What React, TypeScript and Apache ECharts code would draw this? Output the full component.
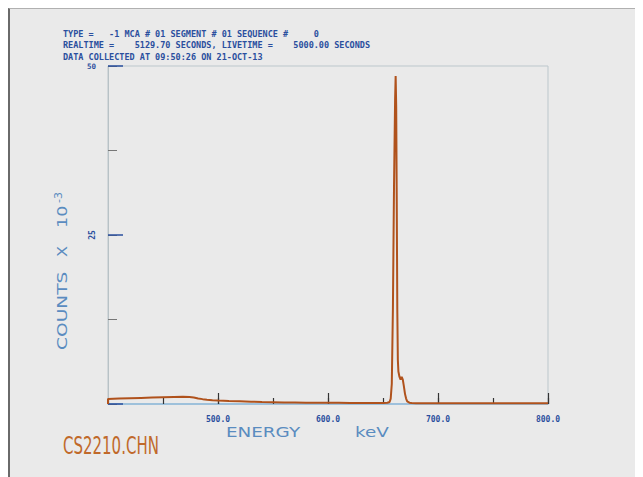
import React, { useEffect, useRef } from "react";
import * as echarts from "echarts";

// Spectrum: energy (keV) and counts (x 10^3)
const energies = [
  400, 400.01, 410, 420, 430, 440, 450, 460, 468, 474, 478, 482, 486, 490, 495, 500,
  510, 520, 530, 540, 550, 560, 570, 580, 590, 600, 610, 620, 630, 640, 650, 654,
  656, 657, 658, 659, 660, 661, 661.5, 662, 662.5, 663, 663.5, 664, 665, 666, 667,
  668, 669, 670, 671, 672, 674, 676, 680, 690, 700, 720, 740, 760, 780, 800,
];
const counts = [
  0, 0.75, 0.8, 0.85, 0.9, 0.95, 1.0, 1.04, 1.07, 1.04, 0.95, 0.82, 0.72, 0.64, 0.56, 0.5,
  0.44, 0.4, 0.35, 0.3, 0.27, 0.24, 0.22, 0.2, 0.19, 0.18, 0.17, 0.16, 0.15, 0.15, 0.15, 0.18,
  0.3, 0.8, 3, 14, 32, 45, 48.5, 44, 30, 14, 6.5, 4.8, 4.0, 3.6, 4.0,
  3.6, 2.6, 1.5, 0.8, 0.4, 0.2, 0.14, 0.12, 0.1, 0.1, 0.1, 0.1, 0.1, 0.1, 0.1,
];

const yLabels = ["25", "50"];
const headerLines = [
  "TYPE =   -1 MCA # 01 SEGMENT # 01 SEQUENCE #     0",
  "REALTIME =    5129.70 SECONDS, LIVETIME =    5000.00 SECONDS",
  "DATA COLLECTED AT 09:50:26 ON 21-OCT-13",
];
const xTitle = ["ENERGY", "keV"];
const yTitle = ["COUNTS", "X", "10", "-3"];
const fileName = "CS2210.CHN";

const nb = (s: string) => s.replace(/ /g, "\u00A0");

export default function App() {
  const ref = useRef<HTMLDivElement>(null);
  useEffect(() => {
    if (!ref.current) return;
    const chart = echarts.init(ref.current, null, { renderer: "svg" });
    const data = energies.map((e, i) => [e, counts[i]]);
    const blue = "#2a4f9e";
    const light = "#5a8cc0";
    const titleFont = "DejaVu Sans";
    chart.setOption({
      animation: false,
      backgroundColor: "#eaeaea",
      grid: {
        left: 98,
        top: 57,
        width: 440,
        height: 338,
        show: true,
        borderColor: "#bcc7cc",
        borderWidth: 1,
        backgroundColor: "transparent",
      },
      xAxis: [
        {
          type: "value",
          min: 400,
          max: 800,
          interval: 50,
          axisLine: { show: true, lineStyle: { color: "#8db9dc", width: 1.5 } },
          axisTick: { show: true, inside: true, length: 6, lineStyle: { color: "#333", width: 1.2 } },
          axisLabel: { show: false },
          splitLine: { show: false },
        },
        {
          type: "value",
          position: "bottom",
          min: 400,
          max: 800,
          interval: 100,
          axisLine: { show: false },
          axisTick: { show: true, inside: true, length: 11, lineStyle: { color: "#333", width: 1.2 } },
          axisLabel: {
            show: true,
            showMinLabel: false,
            margin: 11,
            color: blue,
            fontFamily: "DejaVu Sans Mono",
            fontWeight: "bold",
            fontSize: 8,
            formatter: (v: number) => v.toFixed(1),
          },
          splitLine: { show: false },
        },
      ],
      yAxis: [
        {
          type: "value",
          min: 0,
          max: 50,
          interval: 12.5,
          axisLine: { show: true, lineStyle: { color: "#b8c2c6", width: 1 } },
          axisTick: { show: true, inside: true, length: 9, lineStyle: { color: "#777", width: 1 } },
          axisLabel: {
            show: true,
            margin: 12,
            color: blue,
            fontFamily: "DejaVu Sans Mono",
            fontWeight: "bold",
            fontSize: 7.5,
            formatter: (v: number) => (String(v) === yLabels[1] ? String(v) : ""),
          },
          splitLine: { show: false },
        },
        {
          type: "value",
          position: "left",
          min: 0,
          max: 50,
          interval: 25,
          axisLine: { show: false },
          axisTick: { show: true, inside: true, length: 15, lineStyle: { color: "#2a4f9e", width: 1.5 } },
          axisLabel: {
            show: true,
            margin: 12,
            rotate: 90,
            color: blue,
            fontFamily: "DejaVu Sans Mono",
            fontWeight: "bold",
            fontSize: 8,
            formatter: (v: number) => (String(v) === yLabels[0] ? String(v) : ""),
          },
          splitLine: { show: false },
        },
      ],
      series: [
        {
          type: "line",
          xAxisIndex: 0,
          yAxisIndex: 0,
          data,
          showSymbol: false,
          lineStyle: { color: "#b0521c", width: 2 },
        },
      ],
      graphic: [
        ...headerLines.map((t, i) => ({
          type: "text",
          left: 53,
          top: 20.5 + i * 11.3,
          style: {
            text: nb(t),
            fill: blue,
            font: "bold 8.5px 'DejaVu Sans Mono'",
          },
        })),
        {
          type: "text",
          x: 253,
          y: 423,
          scaleX: 1.36,
          style: {
            text: xTitle[0],
            fill: light,
            font: `13.5px '${titleFont}'`,
            align: "center",
            verticalAlign: "middle",
          },
        },
        {
          type: "text",
          x: 362,
          y: 423,
          scaleX: 1.36,
          style: {
            text: xTitle[1],
            fill: light,
            font: `13.5px '${titleFont}'`,
            align: "center",
            verticalAlign: "middle",
          },
        },
        {
          type: "text",
          x: 52,
          y: 341,
          rotation: Math.PI / 2,
          scaleX: 1.38,
          style: {
            text: yTitle[0],
            fill: light,
            font: `13.5px '${titleFont}'`,
            align: "left",
            verticalAlign: "middle",
          },
        },
        {
          type: "text",
          x: 52,
          y: 248,
          rotation: Math.PI / 2,
          scaleX: 1.2,
          style: {
            text: yTitle[1],
            fill: light,
            font: `13.5px '${titleFont}'`,
            align: "left",
            verticalAlign: "middle",
          },
        },
        {
          type: "text",
          x: 52,
          y: 219,
          rotation: Math.PI / 2,
          scaleX: 1.3,
          style: {
            text: yTitle[2],
            fill: light,
            font: `13.5px '${titleFont}'`,
            align: "left",
            verticalAlign: "middle",
          },
        },
        {
          type: "text",
          x: 48,
          y: 194,
          rotation: Math.PI / 2,
          scaleX: 1.1,
          style: {
            text: yTitle[3],
            fill: light,
            font: `10px '${titleFont}'`,
            align: "left",
            verticalAlign: "middle",
          },
        },
        {
          type: "text",
          x: 53,
          y: 437,
          scaleX: 0.6,
          style: {
            text: fileName,
            fill: "#c0692a",
            font: `25px '${titleFont}'`,
            align: "left",
            verticalAlign: "middle",
          },
        },
      ],
    });
    return () => chart.dispose();
  }, []);
  return (
    <div
      ref={ref}
      style={{
        width: 633,
        height: 468,
        borderLeft: "2px solid #6a6a6a",
        borderTop: "1px solid #b0b0b0",
        background: "#eaeaea",
      }}
    />
  );
}
